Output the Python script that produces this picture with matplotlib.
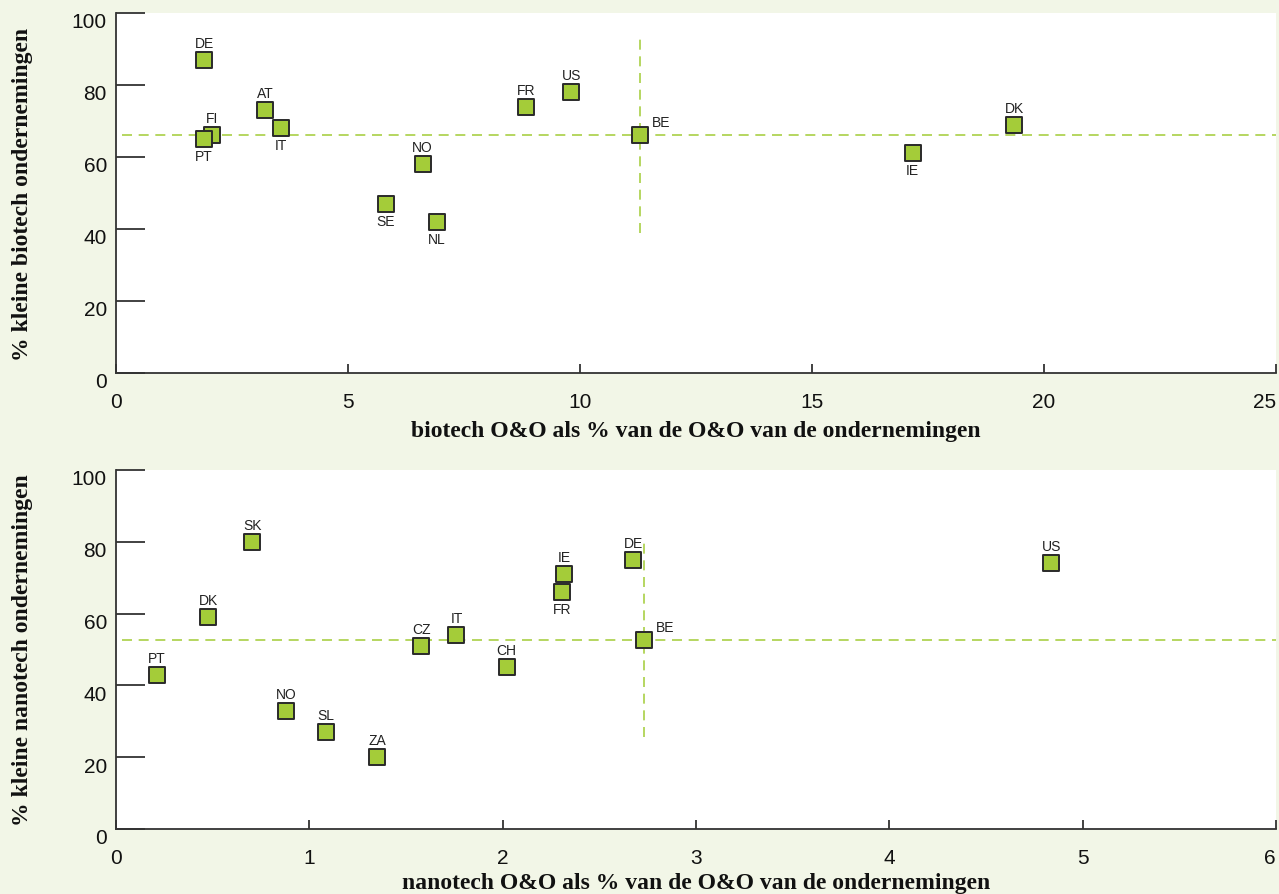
import numpy as np
import matplotlib
matplotlib.use('Agg')
import matplotlib.pyplot as plt
import matplotlib.transforms as mtransforms

# Data: biotech
bio_countries = ['DE', 'FI', 'PT', 'AT', 'IT', 'SE', 'NO', 'NL', 'FR', 'US', 'BE', 'IE', 'DK']
bio_x = [1.90, 2.07, 1.90, 3.21, 3.56, 5.82, 6.61, 6.92, 8.84, 9.81, 11.29, 17.17, 19.36]
bio_y = [87, 66, 65, 73, 68, 47, 58, 42, 74, 78, 66, 61, 69]
bio_below = ['PT', 'IT', 'SE', 'NL', 'IE']

# Data: nanotech
nano_countries = ['PT', 'DK', 'SK', 'NO', 'SL', 'ZA', 'CZ', 'IT', 'CH', 'FR', 'IE', 'DE', 'BE', 'US']
nano_x = [0.21, 0.476, 0.704, 0.878, 1.085, 1.351, 1.58, 1.761, 2.02, 2.305, 2.317, 2.674, 2.731, 4.838]
nano_y = [43, 59, 80, 33, 27, 20, 51, 54, 45, 66, 71, 75, 52.7, 74]
nano_below = ['FR']

ref_country = 'BE'

bg = '#f2f6e7'
green = '#a4cc39'
dash_green = '#a9cf45'
dark = '#2a2a2a'

plt.rcParams['font.family'] = 'Liberation Sans'

fig = plt.figure(figsize=(12.79, 8.95), dpi=100, facecolor=bg)
ax1 = fig.add_axes([0.0907, 0.5821, 0.9070, 0.4023])
ax2 = fig.add_axes([0.0907, 0.0726, 0.9070, 0.4011])


def draw(ax, countries, xs, ys, below, xmax, xticks, xlabel, ylabel, xlab_y):
    ax.set_facecolor('white')
    # cross-hair through the reference country
    i = countries.index(ref_country)
    ax.axhline(ys[i], xmin=0.005, xmax=1, color=dash_green, lw=1.2,
               dashes=(6, 4), zorder=1)
    ax.plot([xs[i], xs[i]], [ys[i] - 27, ys[i] + 27], color=dash_green,
            lw=1.2, dashes=(6, 4), zorder=1)

    ax.scatter(xs, ys, marker='s', s=135, c=green, edgecolors=dark,
               linewidths=1.4, zorder=3)

    for name, x, y in zip(countries, xs, ys):
        if name == ref_country:
            ax.annotate(name, (x, y), xytext=(12, 13), textcoords='offset pixels',
                        ha='left', va='center', fontsize=10, color='#222')
        elif name in below:
            ax.annotate(name, (x, y), xytext=(0, -17), textcoords='offset pixels',
                        ha='center', va='center', fontsize=10, color='#222')
        else:
            ax.annotate(name, (x, y), xytext=(0, 17), textcoords='offset pixels',
                        ha='center', va='center', fontsize=10, color='#222')

    ax.set_xlim(0, xmax)
    ax.set_ylim(0, 100)
    ax.set_xticks(xticks)
    ax.set_yticks([0, 20, 40, 60, 80, 100])
    for side in ['top', 'right']:
        ax.spines[side].set_visible(False)
    for side in ['left', 'bottom']:
        ax.spines[side].set_color('#333')
        ax.spines[side].set_linewidth(1.3)
    ax.tick_params(axis='y', direction='in', length=21, width=1.3, color='#333',
                   pad=6.5, labelsize=15, labelcolor='#111')
    ax.tick_params(axis='x', direction='in', length=6.5, width=1.3, color='#333',
                   pad=14, labelsize=15, labelcolor='#111')
    # y tick labels sit a bit lower than their ticks
    offset = mtransforms.ScaledTranslation(0, -5 / 72, fig.dpi_scale_trans)
    for lab in ax.get_yticklabels():
        lab.set_transform(lab.get_transform() + offset)
    # last x tick label is kept inside the figure
    ax.get_xticklabels()[-1].set_ha('right')

    ax.set_xlabel(xlabel, family='Liberation Serif', fontweight='bold',
                  fontsize=17, color='#111', va='baseline')
    ax.xaxis.set_label_coords(0.5, xlab_y)
    ax.set_ylabel(ylabel, family='Liberation Serif', fontweight='bold',
                  fontsize=17, color='#111', va='baseline')
    ax.yaxis.set_label_coords(-0.0759, 0.5)


draw(ax1, bio_countries, bio_x, bio_y, bio_below, 25, [0, 5, 10, 15, 20, 25],
     'biotech O&O als % van de O&O van de ondernemingen',
     '% kleine biotech ondernemingen', -0.175)
draw(ax2, nano_countries, nano_x, nano_y, nano_below, 6, [0, 1, 2, 3, 4, 5, 6],
     'nanotech O&O als % van de O&O van de ondernemingen',
     '% kleine nanotech ondernemingen', -0.164)

fig.savefig('out.png', dpi=100, facecolor=bg)
